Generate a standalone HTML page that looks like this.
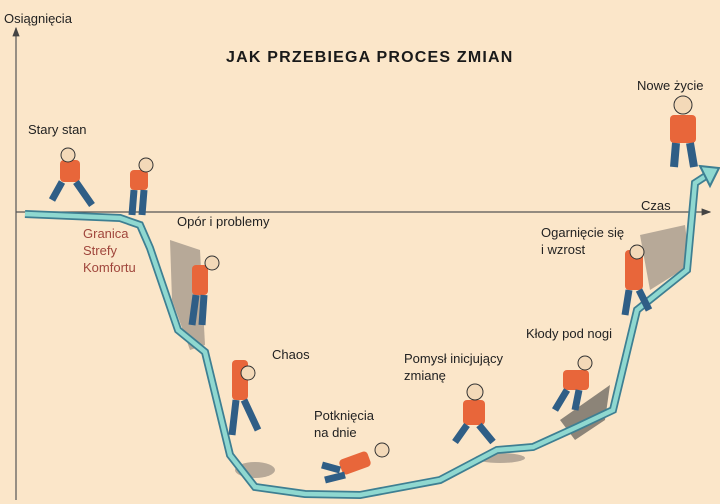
<!DOCTYPE html><html><head><style>
body{margin:0;width:720px;height:504px;overflow:hidden;background:#fbe6c9;font-family:"Liberation Sans",sans-serif;position:relative}
.t{position:absolute;font-size:13px;color:#222;line-height:17px}
.r{color:#a0463c}
</style></head><body>
<svg width="720" height="504" style="position:absolute;left:0;top:0">
<defs><marker id="a" markerWidth="8" markerHeight="8" refX="7" refY="4" orient="auto"><path d="M0,1 L8,4 L0,7z" fill="#444"/></marker></defs>
<line x1="16" y1="500" x2="16" y2="28" stroke="#555" stroke-width="1.2" marker-end="url(#a)"/>
<line x1="16" y1="212" x2="710" y2="212" stroke="#555" stroke-width="1.2" marker-end="url(#a)"/>
<g fill="#8a8078" opacity="0.6">
<path d="M170,240 L200,250 L205,345 L190,350 L172,300z"/>
<path d="M640,235 L685,225 L690,265 L650,290z"/>
<path d="M560,420 L610,385 L605,420 L575,440z" fill="#444"/>
<ellipse cx="255" cy="470" rx="20" ry="8"/>
<ellipse cx="500" cy="458" rx="25" ry="5"/>
</g>
<polyline points="25,214 120,218 140,225 150,248 178,330 205,352 230,455 255,487 305,494 360,495 440,480 497,450 533,447 577,427 613,410 637,310 687,270 695,183 712,172" fill="none" stroke="#3e7f92" stroke-width="8" stroke-linejoin="miter"/>
<polyline points="25,214 120,218 140,225 150,248 178,330 205,352 230,455 255,487 305,494 360,495 440,480 497,450 533,447 577,427 613,410 637,310 687,270 695,183 712,172" fill="none" stroke="#8fd8d0" stroke-width="4.5"/>
<path d="M700,166 L719,168 L710,186 z" fill="#8fd8d0" stroke="#3e7f92" stroke-width="2"/>
<g>
<g transform="translate(50,150)"><rect x="10" y="10" width="20" height="22" fill="#e8663a" rx="4"/><circle cx="18" cy="5" r="7" fill="#f3d9b8" stroke="#333"/><path d="M12,32 L2,50 M26,32 L42,55" stroke="#2f5e86" stroke-width="7"/></g>
<g transform="translate(120,160)"><rect x="10" y="10" width="18" height="20" fill="#e8663a" rx="4"/><circle cx="26" cy="5" r="7" fill="#f3d9b8" stroke="#333"/><path d="M14,30 L12,55 M24,30 L22,55" stroke="#2f5e86" stroke-width="7"/></g>
<g transform="translate(180,245)"><rect x="12" y="20" width="16" height="30" fill="#e8663a" rx="4"/><circle cx="32" cy="18" r="7" fill="#f3d9b8" stroke="#333"/><path d="M16,50 L12,80 M24,50 L22,80" stroke="#2f5e86" stroke-width="7"/></g>
<g transform="translate(222,345)"><rect x="10" y="15" width="16" height="40" fill="#e8663a" rx="4"/><circle cx="26" cy="28" r="7" fill="#f3d9b8" stroke="#333"/><path d="M14,55 L10,90 M22,55 L36,85" stroke="#2f5e86" stroke-width="7"/></g>
<g transform="translate(320,435)"><rect x="20" y="20" width="30" height="16" fill="#e8663a" rx="4" transform="rotate(-20 35 28)"/><circle cx="62" cy="15" r="7" fill="#f3d9b8" stroke="#333"/><path d="M20,35 L2,30 M25,40 L5,45" stroke="#2f5e86" stroke-width="7"/></g>
<g transform="translate(445,380)"><rect x="18" y="20" width="22" height="25" fill="#e8663a" rx="4"/><circle cx="30" cy="12" r="8" fill="#f3d9b8" stroke="#333"/><path d="M22,45 L10,62 M34,45 L48,62" stroke="#2f5e86" stroke-width="7"/></g>
<g transform="translate(545,355)"><rect x="18" y="15" width="26" height="20" fill="#e8663a" rx="4"/><circle cx="40" cy="8" r="7" fill="#f3d9b8" stroke="#333"/><path d="M22,35 L10,55 M34,35 L30,55" stroke="#2f5e86" stroke-width="7"/></g>
<g transform="translate(615,230)"><rect x="10" y="20" width="18" height="40" fill="#e8663a" rx="4"/><circle cx="22" cy="22" r="7" fill="#f3d9b8" stroke="#333"/><path d="M14,60 L10,85 M24,60 L34,80" stroke="#2f5e86" stroke-width="7"/></g>
<g transform="translate(660,95)"><rect x="10" y="20" width="26" height="28" fill="#e8663a" rx="4"/><circle cx="23" cy="10" r="9" fill="#f3d9b8" stroke="#333"/><path d="M16,48 L14,72 M30,48 L34,72" stroke="#2f5e86" stroke-width="8"/></g>
</g>
</svg>
<div class="t" style="left:4px;top:10px">Osiągnięcia</div>
<div class="t" style="left:226px;top:49px;font-weight:bold;font-size:16px;letter-spacing:1.2px;color:#1a1a1a">JAK PRZEBIEGA PROCES ZMIAN</div>
<div class="t" style="left:637px;top:77px">Nowe życie</div>
<div class="t" style="left:28px;top:121px">Stary stan</div>
<div class="t" style="left:641px;top:197px">Czas</div>
<div class="t" style="left:177px;top:213px">Opór i problemy</div>
<div class="t r" style="left:83px;top:225px">Granica<br>Strefy<br>Komfortu</div>
<div class="t" style="left:541px;top:224px">Ogarnięcie się<br>i wzrost</div>
<div class="t" style="left:526px;top:325px">Kłody pod nogi</div>
<div class="t" style="left:272px;top:346px">Chaos</div>
<div class="t" style="left:404px;top:350px">Pomysł inicjujący<br>zmianę</div>
<div class="t" style="left:314px;top:407px">Potknięcia<br>na dnie</div>
</body></html>
